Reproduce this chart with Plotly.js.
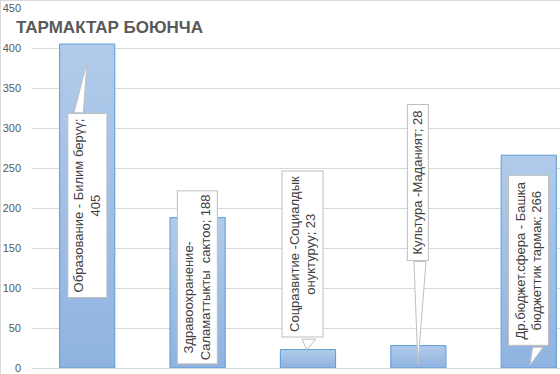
<!DOCTYPE html>
<html>
<head>
<meta charset="utf-8">
<script src="https://cdn.plot.ly/plotly-3.0.1.min.js"></script>
<style>
html,body{margin:0;padding:0;background:#fff;}
#chart{width:560px;height:374px;position:relative;}
#frame{position:absolute;left:0;top:0;width:560px;height:374px;border-left:1px solid #d9d9d9;border-top:1px solid #d9d9d9;box-sizing:border-box;pointer-events:none;}
</style>
</head>
<body>
<div id="chart"></div>
<div id="frame"></div>
<script>
// ---- data ----
const categories = ["Образование - Билим берүү", "Здравоохранение-Саламаттыкты сактоо", "Соцразвитие -Социалдык онуктуруу", "Культура -Маданият", "Др.бюджет.сфера - Башка бюджеттик тармак"];
const values = [405, 188, 23, 28, 266];
const labelLines = [
  ["Образование - Билим берүү;", "405"],
  ["Здравоохранение-" + "\u00a0".repeat(11), "Саламаттыкты\u00a0\u00a0сактоо; 188"],
  ["Соцразвитие -Социалдык", "онуктуруу; 23"],
  ["Культура -Маданият; 28"],
  ["Др.бюджет.сфера - Башка", "бюджеттик тармак; 266"]
];
const yTicks = [0, 50, 100, 150, 200, 250, 300, 350, 400, 450];

// ---- callout layout (positions in axis units) ----
const labelDX = [0.0, 1.0, 1.955, 2.996, 3.997];
const labelY = [202.7, 112.8, 141.9, 232.4, 134.5];
const boxLen = [185, 174, 167, 157, 171];   // px along text
const boxThick = [40, 41, 42, 22, 41];      // px across text
const showPointer = [true, false, true, true, true];
const pointerBase = [[-0.12, -0.035, 319], null, [1.946, 2.072, 36], [2.96, 3.069, 133], [4.035, 4.13, 26]];
const pointerTip = [[-0.002, 381.8], null, [1.99, 23], [2.996, 4], [4.011, 3.5]];

const xIdx = values.map((v, i) => i);

const trace = {
  type: 'bar',
  x: xIdx,
  y: values,
  text: categories,
  hoverinfo: 'text+y',
  width: 0.5,
  marker: {color: '#a3bfe4', line: {color: '#5b9bd5', width: 1}},
  textposition: 'none'
};

const annotations = values.map((v, i) => ({
  x: labelDX[i], y: labelY[i], xref: 'x', yref: 'y',
  text: labelLines[i].join('<br>'),
  showarrow: false,
  textangle: -90,
  width: boxLen[i] - 2,
  height: boxThick[i] - 2,
  align: 'center',
  valign: 'middle',
  bgcolor: '#ffffff',
  bordercolor: '#bfbfbf',
  borderwidth: 1,
  borderpad: 0,
  font: {family: 'Liberation Sans, Arial, sans-serif', size: 13, color: '#404040'}
}));

const shapes = [];
values.forEach((v, i) => {
  if (!showPointer[i]) return;
  const b = pointerBase[i], t = pointerTip[i];
  shapes.push({
    type: 'path', xref: 'x', yref: 'y', layer: 'above',
    path: `M ${b[0]} ${b[2]} L ${t[0]} ${t[1]} L ${b[1]} ${b[2]} Z`,
    fillcolor: '#ffffff',
    line: {color: '#bfbfbf', width: 1}
  });
});

const layout = {
  width: 560, height: 374,
  margin: {l: 32, r: 0, t: 8, b: 6, pad: 0},
  paper_bgcolor: '#ffffff', plot_bgcolor: '#ffffff',
  showlegend: false,
  title: {
    text: '<b>ТАРМАКТАР БОЮНЧА</b>',
    xref: 'container', yref: 'container',
    x: 16 / 560, xanchor: 'left',
    y: 1 - 27 / 374, yanchor: 'middle',
    font: {family: 'Liberation Sans, Arial, sans-serif', size: 17, color: '#595959'}
  },
  xaxis: {
    range: [-0.5, 4.283], showticklabels: false, showgrid: false,
    zeroline: false, showline: false, ticks: '', fixedrange: true
  },
  yaxis: {
    range: [0, 450], tickvals: yTicks, ticktext: yTicks.map(String),
    showgrid: true, gridcolor: '#d9d9d9', gridwidth: 1,
    zeroline: true, zerolinecolor: '#d9d9d9', zerolinewidth: 1,
    showline: false, ticks: '', ticklabelstandoff: 10,
    ticklabeloverflow: 'allow',
    tickfont: {family: 'Liberation Sans, Arial, sans-serif', size: 11, color: '#595959'}
  },
  annotations: annotations,
  shapes: shapes,
  bargap: 0.5
};

Plotly.newPlot('chart', [trace], layout, {displayModeBar: false, staticPlot: true}).then(gd => {
  // vertical gradient fill on the library-drawn bars
  const svg = gd.querySelector('svg.main-svg');
  const ns = 'http://www.w3.org/2000/svg';
  let defs = svg.querySelector('defs');
  if (!defs) { defs = document.createElementNS(ns, 'defs'); svg.insertBefore(defs, svg.firstChild); }
  const g = document.createElementNS(ns, 'linearGradient');
  g.setAttribute('id', 'barGrad');
  g.setAttribute('x1', '0'); g.setAttribute('y1', '0');
  g.setAttribute('x2', '0'); g.setAttribute('y2', '1');
  [['0', '#b1cbea'], ['1', '#8fb3e0']].forEach(([o, c]) => {
    const s = document.createElementNS(ns, 'stop');
    s.setAttribute('offset', o); s.setAttribute('stop-color', c);
    g.appendChild(s);
  });
  defs.appendChild(g);
  gd.querySelectorAll('.trace.bars .point path').forEach(p => {
    p.style.fill = 'url(#barGrad)';
  });
});
</script>
</body>
</html>
